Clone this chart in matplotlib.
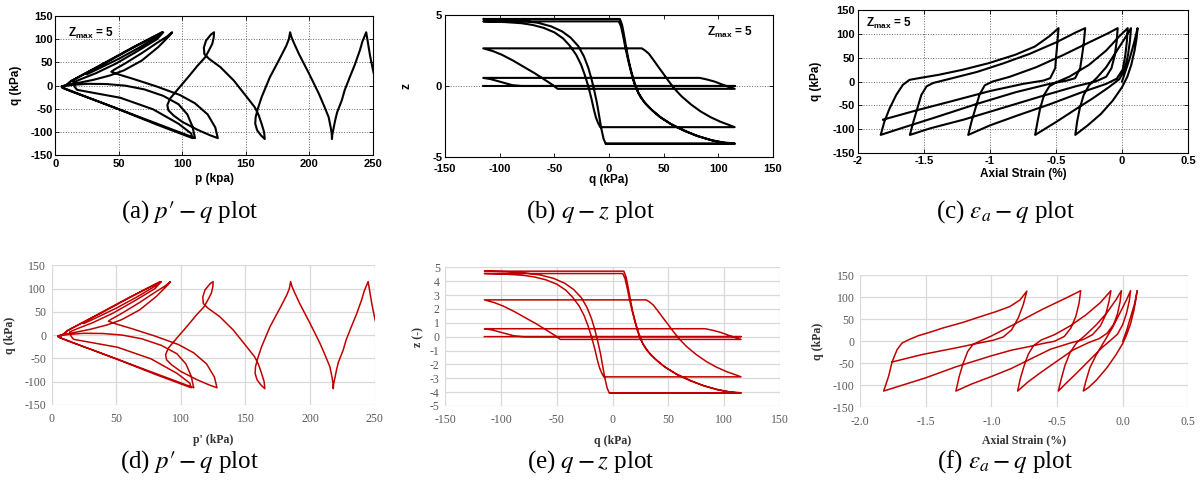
import numpy as np
import matplotlib
matplotlib.use('Agg')
import matplotlib.pyplot as plt

plt.rcParams['axes.unicode_minus'] = False
plt.rcParams['mathtext.fontset'] = 'stix'

# =============================================================================
# Data
# =============================================================================
# effective stress path p' - q (same test in a and d)
pq_path = [(253, 0), (251.5, 20), (250, 38), (248, 65), (246.5, 90), (245, 115),
           (242, 95), (240, 76), (236, 45), (232, 18), (228, -10), (225.7, -32), (222, -58),
           (220.5, -75), (219, -95), (218.3, -105), (218, -115),
           (217.8, -103), (217, -90), (215.4, -68), (212, -45), (207.7, -17.5), (200, 25.5),
           (192, 68), (188, 92), (186, 105), (185, 115),
           (184, 100), (182, 86), (176.7, 57.7), (169, 18), (162.5, -25), (159.5, -50),
           (157.8, -68), (157.5, -82), (159, -96), (162, -107), (165, -115),
           (164.5, -100), (162.5, -82), (160, -62), (157, -46), (151, -25), (140.6, 11),
           (130, 40), (121, 58), (117.4, 68), (117, 82), (118.7, 97), (122.5, 110), (125, 115),
           (124.8, 104), (123.6, 90), (121, 76), (118, 61), (112, 43), (104.5, 18), (96.7, -7),
           (90.3, -28), (88.2, -42), (89, -53), (93, -64), (100, -78), (112, -95), (122, -107), (128, -113),
           (126, -90), (120, -62), (110, -38), (98, -20), (80, -2), (62, 14), (50, 24), (44, 30),
           (46, 34), (55, 48), (68, 70), (80, 92), (88, 106), (92, 115),
           (90, 108), (81, 83), (68, 54), (54, 33), (43, 22), (30, 12.6), (17, 5.4), (8, 1), (4.7, -1.7),
           (15, 2), (25, 4), (40, 3.5), (55, 0), (70, -8), (85, -22), (97, -40), (104, -62), (108, -88), (110, -113),
           (85, -87), (55, -56), (30, -30), (12, -12), (6, -5), (8, 0), (12.4, 10), (40, 50), (60, 80), (78, 106), (85, 115),
           (80, 100), (65, 75), (48, 48), (32, 27), (20, 14), (14, 7), (15, -2), (17, -9), (25, -13),
           (51, -26), (77, -51), (97, -82), (107, -103), (108, -113),
           (80, -84), (50, -51), (25, -25), (12, -11), (5, -4), (9, 2), (12.4, 10), (40, 51), (60, 81), (84, 115),
           (80, 105), (66, 82), (50, 58), (35, 38), (25, 25)]

# q - z path (same in b and e)
qz_path = [(-115, 0), (115, 0), (-80, 0), (-88, 0.05), (-95, 0.2), (-102, 0.35), (-108, 0.48), (-115, 0.57),
           (83, 0.57), (90, 0.45), (97, 0.3), (103, 0.12), (108, -0.02), (115, -0.2),
           (-47, -0.2), (-52, 0.1), (-60, 0.5), (-68, 0.9), (-78, 1.35), (-88, 1.8), (-98, 2.2), (-106, 2.45), (-115, 2.65),
           (30, 2.65), (33, 2.5), (36.4, 2.28), (41, 1.8), (45.4, 1.32), (50, 0.84), (54.4, 0.36), (60, -0.2),
           (66.3, -0.72), (75, -1.3), (84, -1.8), (93, -2.2), (102, -2.52), (110, -2.75), (115, -2.9),
           (-8, -2.9), (-10, -2.6), (-12, -2.2), (-14, -1.6), (-16, -0.9), (-19, 0), (-22, 0.75), (-25.5, 1.5),
           (-30, 2.2), (-36, 2.85), (-42, 3.35), (-50, 3.78), (-60, 4.1), (-70, 4.3), (-80, 4.42), (-95, 4.5), (-115, 4.55),
           (9, 4.55), (11, 4.2), (13, 3.5), (15, 2.7), (17, 2.0), (19.5, 1.2), (22, 0.45), (25, -0.2), (29, -0.8),
           (34, -1.3), (40, -1.75), (48, -2.25), (58, -2.75), (70, -3.2), (82, -3.55), (95, -3.85), (105, -4.0), (115, -4.08),
           (-3, -4.08), (-5, -3.7), (-7, -3.0), (-9, -2.1), (-11, -1.2), (-13.5, -0.3), (-16, 0.5), (-19, 1.3),
           (-23, 2.1), (-28, 2.8), (-35, 3.4), (-43, 3.85), (-53, 4.2), (-65, 4.45), (-80, 4.6), (-95, 4.68), (-115, 4.72),
           (10, 4.72), (12, 4.3), (14, 3.5), (16, 2.6), (18, 1.8), (20.5, 1.0), (23.5, 0.2), (27, -0.5), (32, -1.1),
           (38, -1.6), (46, -2.15), (56, -2.65), (68, -3.1), (80, -3.5), (93, -3.8), (104, -3.97), (115, -4.05),
           (-2, -4.05)]

# axial strain - q, original figure (c)
eq_top_path = [(0, 0), (0.03, 25), (0.06, 50), (0.09, 80), (0.118, 112),
               (0.11, 90), (0.095, 65), (0.07, 35), (0.04, 10), (0.0, -12), (-0.07, -40), (-0.16, -68), (-0.26, -92), (-0.354, -112),
               (-0.34, -84), (-0.32, -56), (-0.29, -28), (-0.25, -8), (-0.19, 8), (-0.12, 30), (-0.05, 60), (0.02, 90), (0.068, 112),
               (0.06, 85), (0.045, 55), (0.02, 25), (-0.02, 5), (-0.1, -12), (-0.22, -35), (-0.35, -58), (-0.5, -85), (-0.658, -112),
               (-0.64, -84), (-0.62, -56), (-0.59, -28), (-0.55, -10), (-0.5, -2), (-0.4, 10), (-0.25, 35), (-0.12, 65), (-0.02, 95), (0.043, 112),
               (0.037, 85), (0.025, 55), (0.005, 25), (-0.04, 6), (-0.12, -5), (-0.3, -22), (-0.55, -48), (-0.8, -72), (-1.0, -92), (-1.165, -112),
               (-1.14, -84), (-1.11, -56), (-1.08, -28), (-1.04, -8), (-0.98, 0), (-0.85, 10), (-0.65, 30), (-0.45, 55), (-0.25, 82), (-0.1, 102), (-0.033, 112),
               (-0.04, 85), (-0.055, 55), (-0.08, 28), (-0.12, 10), (-0.2, 0), (-0.35, -10), (-0.6, -30), (-0.9, -55), (-1.2, -80), (-1.45, -98), (-1.607, -112),
               (-1.58, -84), (-1.55, -56), (-1.52, -28), (-1.48, -10), (-1.43, -3), (-1.3, 6), (-1.1, 20), (-0.9, 38), (-0.7, 58), (-0.5, 82), (-0.35, 103), (-0.279, 112),
               (-0.29, 80), (-0.305, 50), (-0.317, 28), (-0.355, 7), (-0.418, 2), (-0.55, -5), (-0.8, -22), (-1.1, -47), (-1.4, -74), (-1.65, -96), (-1.828, -112),
               (-1.8, -84), (-1.76, -56), (-1.71, -28), (-1.66, -7), (-1.61, 3.5), (-1.54, 7), (-1.39, 14), (-1.21, 24.5), (-1.01, 38.5), (-0.81, 56), (-0.66, 73.4), (-0.55, 95), (-0.481, 112),
               (-0.49, 80), (-0.5, 50), (-0.506, 28), (-0.544, 7), (-0.595, 2), (-0.75, -5), (-1.0, -20), (-1.3, -42), (-1.55, -60), (-1.81, -80)]

# axial strain - q, reproduced figure (f)
eq_bot_path = [(0, 0), (0.03, 25), (0.06, 55), (0.09, 85), (0.11, 115),
               (0.10, 95), (0.085, 70), (0.06, 40), (0.03, 15), (0.0, -5), (-0.05, -30), (-0.12, -60), (-0.2, -88), (-0.26, -105), (-0.30, -113),
               (-0.28, -90), (-0.25, -60), (-0.2, -30), (-0.14, 0), (-0.08, 30), (-0.02, 65), (0.03, 95), (0.06, 115),
               (0.05, 92), (0.03, 65), (0.0, 38), (-0.04, 16), (-0.09, 3), (-0.16, -15), (-0.25, -42), (-0.35, -72), (-0.43, -95), (-0.49, -113),
               (-0.47, -88), (-0.44, -55), (-0.4, -25), (-0.35, -3), (-0.28, 15), (-0.2, 38), (-0.12, 65), (-0.05, 95), (-0.01, 115),
               (-0.02, 90), (-0.04, 62), (-0.07, 38), (-0.12, 18), (-0.18, 6), (-0.26, -3), (-0.38, -20), (-0.5, -45), (-0.62, -70), (-0.72, -92), (-0.80, -113),
               (-0.78, -85), (-0.75, -55), (-0.72, -30), (-0.68, -10), (-0.62, 3), (-0.52, 15), (-0.4, 35), (-0.28, 60), (-0.17, 88), (-0.09, 115),
               (-0.105, 90), (-0.13, 60), (-0.17, 35), (-0.23, 15), (-0.3, 4), (-0.4, -4), (-0.55, -18), (-0.7, -40), (-0.85, -62), (-1.0, -80), (-1.15, -97), (-1.27, -113),
               (-1.245, -80), (-1.215, -50), (-1.18, -23), (-1.14, -7), (-1.09, 0), (-1.0, 12), (-0.85, 35), (-0.654, 66), (-0.595, 75), (-0.42, 100), (-0.32, 115),
               (-0.3325, 86.5), (-0.3575, 56), (-0.395, 30), (-0.445, 11), (-0.52, 0), (-0.6075, -5), (-0.695, -11), (-0.845, -20), (-1.0, -33), (-1.27, -58), (-1.5, -83), (-1.82, -113),
               (-1.782, -79), (-1.756, -47), (-1.718, -19), (-1.68, -4), (-1.628, 3.7), (-1.556, 12.8), (-1.474, 20), (-1.372, 30), (-1.218, 42.8),
               (-1.064, 57.9), (-0.962, 67.7), (-0.859, 79), (-0.782, 94), (-0.73, 114),
               (-0.757, 83.5), (-0.795, 53.4), (-0.846, 26), (-0.91, 9.8), (-0.987, 2.3), (-1.09, -3.8), (-1.27, -15), (-1.526, -30), (-1.756, -47)]

q_ticks = [-150, -100, -50, 0, 50, 100, 150]
p_ticks = [0, 50, 100, 150, 200, 250]
z_ticks_top = [-5, 0, 5]
z_ticks_bot = [-5, -4, -3, -2, -1, 0, 1, 2, 3, 4, 5]
ea_ticks = [-2.0, -1.5, -1.0, -0.5, 0.0, 0.5]
ea_labels_top = ['-2', '-1.5', '-1', '-0.5', '0', '0.5']
ea_labels_bot = ['-2.0', '-1.5', '-1.0', '-0.5', '0.0', '0.5']

captions = [r'(a) $p\prime-q$ plot', r'(b) $q-z$ plot', r'(c) $\varepsilon_a-q$ plot',
            r'(d) $p\prime-q$ plot', r'(e) $q-z$ plot', r'(f) $\varepsilon_a-q$ plot']

pq = np.array(pq_path)
qz = np.array(qz_path)
eqt = np.array(eq_top_path)
eqb = np.array(eq_bot_path)

# =============================================================================
# Figure
# =============================================================================
fig = plt.figure(figsize=(12.01, 4.96), dpi=100)

SANS = 'Liberation Sans'
SERIF = 'Liberation Serif'
RED = '#c00000'
LAB = '#333333'


def top_style(ax, xpad=2.5):
    for s in ax.spines.values():
        s.set_linewidth(0.8)
    ax.tick_params(direction='in', length=3, width=0.6, top=True, right=True,
                   labelsize=8, pad=2, labelfontfamily=SANS)
    ax.tick_params(axis='x', pad=xpad)
    for lab in ax.get_xticklabels() + ax.get_yticklabels():
        lab.set_fontweight('bold')


def bot_style(ax):
    for s in ax.spines.values():
        s.set_visible(False)
    ax.grid(True, color='#d9d9d9', lw=0.9)
    ax.set_axisbelow(True)
    ax.tick_params(length=0, labelsize=8.5, labelcolor='#595959', pad=4,
                   labelfontfamily=SERIF)
    ax.tick_params(axis='x', pad=6)


# ---- top row (original, black) ----
ax_a = fig.add_axes([0.0462, 0.6869, 0.2640, 0.2808])
ax_a.plot(pq[:, 0], pq[:, 1], color='black', lw=1.5)
ax_a.set_xlim(0, 250)
ax_a.set_ylim(-150, 150)
ax_a.set_xticks(p_ticks)
ax_a.set_yticks(q_ticks)
ax_a.grid(True, ls=':', color='#666666', lw=0.7)
top_style(ax_a)
ax_a.set_xlabel('p (kpa)', family=SANS, fontsize=8.5, fontweight='bold', labelpad=3)
ax_a.set_ylabel('q (kPa)', family=SANS, fontsize=8.5, fontweight='bold', labelpad=6)
ax_a.text(0.04, 0.93, r'$\mathregular{Z_{max}}$ = 5', transform=ax_a.transAxes,
          family=SANS, fontsize=8.5, fontweight='bold', va='top')

ax_b = fig.add_axes([0.3705, 0.6835, 0.2731, 0.2863])
ax_b.plot(qz[:, 0], qz[:, 1], color='black', lw=1.5)
ax_b.set_xlim(-150, 150)
ax_b.set_ylim(-5, 5)
ax_b.set_xticks([-150, -100, -50, 0, 50, 100, 150])
ax_b.set_yticks(z_ticks_top)
ax_b.grid(True, axis='y', ls=':', color='#666666', lw=0.7)
top_style(ax_b, xpad=5)
ax_b.set_xlabel('q (kPa)', family=SANS, fontsize=8.5, fontweight='bold', labelpad=0)
ax_b.set_ylabel('z', family=SANS, fontsize=8.5, fontweight='bold', labelpad=14)
ax_b.text(0.80, 0.93, r'$\mathregular{Z_{max}}$ = 5', transform=ax_b.transAxes,
          family=SANS, fontsize=8.5, fontweight='bold', va='top')

ax_c = fig.add_axes([0.7144, 0.6915, 0.2748, 0.2883])
ax_c.plot(eqt[:, 0], eqt[:, 1], color='black', lw=1.5)
ax_c.set_xlim(-2, 0.5)
ax_c.set_ylim(-150, 150)
ax_c.set_xticks(ea_ticks)
ax_c.set_xticklabels(ea_labels_top)
ax_c.set_yticks(q_ticks)
ax_c.grid(True, ls=':', color='#666666', lw=0.7)
top_style(ax_c)
ax_c.set_xlabel('Axial Strain (%)', family=SANS, fontsize=8.5, fontweight='bold', labelpad=1)
ax_c.set_ylabel('q (kPa)', family=SANS, fontsize=8.5, fontweight='bold', labelpad=8)
ax_c.text(0.025, 0.96, r'$\mathregular{Z_{max}}$ = 5', transform=ax_c.transAxes,
          family=SANS, fontsize=8.5, fontweight='bold', va='top')

# ---- bottom row (reproduction, red) ----
ax_d = fig.add_axes([0.0430, 0.1835, 0.2689, 0.2816])
ax_d.plot(pq[:, 0], pq[:, 1], color=RED, lw=1.1)
ax_d.set_xlim(0, 250)
ax_d.set_ylim(-150, 150)
ax_d.set_xticks(p_ticks)
ax_d.set_yticks(q_ticks)
bot_style(ax_d)
ax_d.set_xlabel("p' (kPa)", family=SERIF, fontsize=8.5, fontweight='bold', color=LAB, labelpad=6)
ax_d.set_ylabel('q (kPa)', family=SERIF, fontsize=8.5, fontweight='bold', color=LAB, labelpad=6)

ax_e = fig.add_axes([0.3708, 0.1815, 0.2787, 0.2796])
ax_e.plot(qz[:, 0], qz[:, 1], color=RED, lw=1.1)
ax_e.set_xlim(-150, 150)
ax_e.set_ylim(-5, 5)
ax_e.set_xticks([-150, -100, -50, 0, 50, 100, 150])
ax_e.set_yticks(z_ticks_bot)
bot_style(ax_e)
ax_e.set_xlabel('q (kPa)', family=SERIF, fontsize=8.5, fontweight='bold', color=LAB, labelpad=6)
ax_e.set_ylabel('z (-)', family=SERIF, fontsize=8.5, fontweight='bold', color=LAB, labelpad=4)

ax_f = fig.add_axes([0.7161, 0.1788, 0.2734, 0.2662])
ax_f.plot(eqb[:, 0], eqb[:, 1], color=RED, lw=1.1)
ax_f.set_xlim(-2, 0.5)
ax_f.set_ylim(-150, 150)
ax_f.set_xticks(ea_ticks)
ax_f.set_xticklabels(ea_labels_bot)
ax_f.set_yticks(q_ticks)
bot_style(ax_f)
ax_f.set_xlabel('Axial Strain (%)', family=SERIF, fontsize=8.5, fontweight='bold', color=LAB, labelpad=5)
ax_f.set_ylabel('q (kPa)', family=SERIF, fontsize=8.5, fontweight='bold', color=LAB, labelpad=6)

# captions
cap_x = [0.158, 0.492, 0.837]
for i, cap in enumerate(captions):
    y = 0.5726 if i < 3 else 0.0685
    fig.text(cap_x[i % 3], y, cap, ha='center', va='center', fontsize=18, family=SERIF)

fig.savefig('out.png', dpi=100)
